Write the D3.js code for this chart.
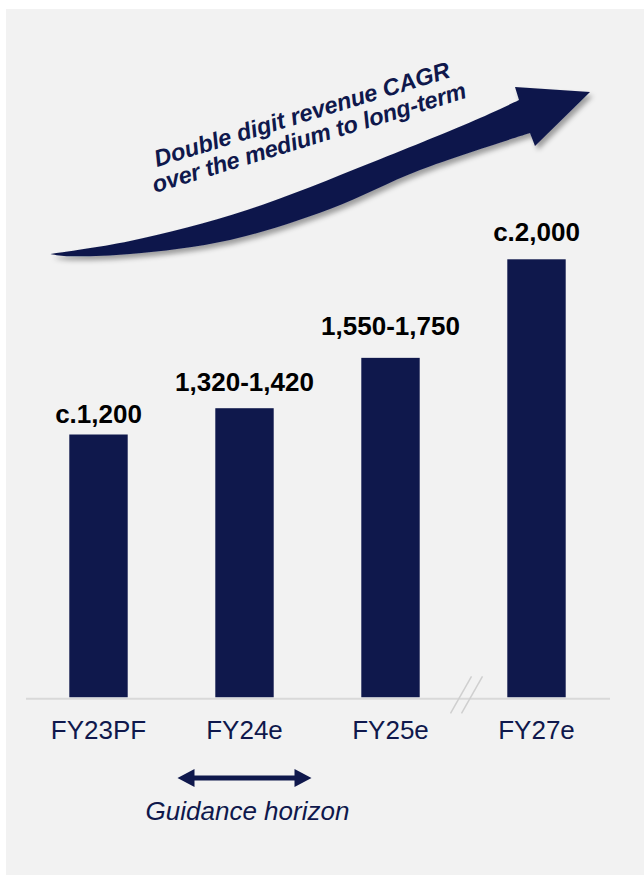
<!DOCTYPE html>
<html>
<head>
<meta charset="utf-8">
<script src="https://cdn.jsdelivr.net/npm/d3@7"></script>
<style>
  html, body { margin: 0; padding: 0; background: #ffffff; }
  svg { display: block; }
  text { font-family: "Liberation Sans", Arial, sans-serif; }
</style>
</head>
<body>
<svg id="chart" width="644" height="875"></svg>
<script>
// Revenue outlook (EUR m)
const categories = ["FY23PF", "FY24e", "FY25e", "FY27e"];
const barValues = [1200, 1320, 1550, 2000];
const valueLabels = ["c.1,200", "1,320-1,420", "1,550-1,750", "c.2,000"];
const yDomain = [0, 2000];
const growthText = ["Double digit revenue CAGR", "over the medium to long-term"];
const horizonText = "Guidance horizon";
const horizonCategory = "FY24e";

const navy = "#0f184c";
const W = 644, H = 875;
const svg = d3.select("#chart");

// panel background
svg.append("rect").attr("x", 6).attr("y", 9).attr("width", W - 6).attr("height", H - 9)
  .attr("fill", "#f2f2f2");

const defs = svg.append("defs");
const f = defs.append("filter").attr("id", "shadow")
  .attr("x", "-10%").attr("y", "-20%").attr("width", "130%").attr("height", "160%");
f.append("feDropShadow").attr("dx", 3).attr("dy", 4).attr("stdDeviation", 2.6)
  .attr("flood-color", "#000").attr("flood-opacity", 0.35);

// scales
const baseY = 697.3;
const x = d3.scaleBand().domain(categories).range([25.5, 609.5])
  .paddingInner(0.6).paddingOuter(0.3);
const y = d3.scaleLinear().domain(yDomain).range([baseY, 259.3]);
const bw = x.bandwidth();

// bars
svg.append("g").selectAll("rect").data(categories).join("rect")
  .attr("x", d => x(d))
  .attr("y", (d, i) => y(barValues[i]))
  .attr("width", bw)
  .attr("height", (d, i) => y(0) - y(barValues[i]))
  .attr("fill", navy);

// value labels, lifted a little more over the wider range labels
const labelGap = [12, 17, 23, 18];
svg.append("g").selectAll("text").data(categories).join("text")
  .attr("x", d => x(d) + bw / 2)
  .attr("y", (d, i) => y(barValues[i]) - labelGap[i])
  .attr("text-anchor", "middle")
  .attr("font-size", 26).attr("font-weight", "bold").attr("fill", "#000")
  .text((d, i) => valueLabels[i]);

// category axis
const axis = svg.append("g").attr("transform", `translate(0,${baseY + 1})`)
  .call(d3.axisBottom(x).tickSize(0).tickSizeOuter(0).tickPadding(22));
axis.select(".domain").attr("stroke", "#d9d9d9").attr("stroke-width", 2);
axis.selectAll(".tick text")
  .attr("font-size", 26).attr("fill", navy)
  .style("font-family", "'Liberation Sans', Arial, sans-serif");

// axis break between FY25e and FY27e
const breakX = (x("FY25e") + bw + x("FY27e")) / 2 + 3;
svg.append("g").selectAll("line").data([-5.5, 5.5]).join("line")
  .attr("x1", d => breakX + d - 10.5).attr("y1", baseY + 16)
  .attr("x2", d => breakX + d + 10.5).attr("y2", baseY - 21)
  .attr("stroke", "#cfcfcf").attr("stroke-width", 1.5);

// guidance horizon double arrow
const hc = x(horizonCategory) + bw / 2;
const ay = 778, half = 67, headL = 17, headH = 9, shaft = 2.4;
svg.append("path")
  .attr("d", [
    [hc - half, ay], [hc - half + headL, ay - headH], [hc - half + headL, ay - shaft],
    [hc + half - headL, ay - shaft], [hc + half - headL, ay - headH], [hc + half, ay],
    [hc + half - headL, ay + headH], [hc + half - headL, ay + shaft],
    [hc - half + headL, ay + shaft], [hc - half + headL, ay + headH]
  ].map((p, i) => (i ? "L" : "M") + p[0] + "," + p[1]).join("") + "Z")
  .attr("fill", navy);
svg.append("text").attr("x", hc + 3).attr("y", 820).attr("text-anchor", "middle")
  .attr("font-size", 26).attr("font-style", "italic").attr("fill", navy)
  .text(horizonText);

// sweeping growth arrow
const topEdge = [[50, 254], [130, 241], [247, 210], [373, 162], [480, 118], [519, 100]];
const bottomEdge = [[530, 133], [420, 170], [330, 209], [230, 240], [130, 254], [64, 256], [50, 254]];
const edge = d3.line().curve(d3.curveCatmullRom.alpha(0.5));
const head = "L515,87L590,92L535,146L530,133";
const arrowPath = edge(topEdge) + head + edge(bottomEdge).replace(/^M/, "L") + "Z";
svg.append("path").attr("d", arrowPath).attr("fill", navy).attr("filter", "url(#shadow)");

// growth caption: two parallel lines tilted with the arrow
const capAngle = -17;
const capStarts = [[157, 167, 308], [155, 193, 327]];
svg.append("g").selectAll("text").data(growthText).join("text")
  .attr("transform", (d, i) => `translate(${capStarts[i][0]},${capStarts[i][1]}) rotate(${capAngle})`)
  .attr("font-size", 23.5).attr("font-weight", "bold").attr("font-style", "italic")
  .attr("fill", navy)
  .attr("textLength", (d, i) => capStarts[i][2])
  .attr("lengthAdjust", "spacing")
  .text(d => d);
</script>
</body>
</html>
